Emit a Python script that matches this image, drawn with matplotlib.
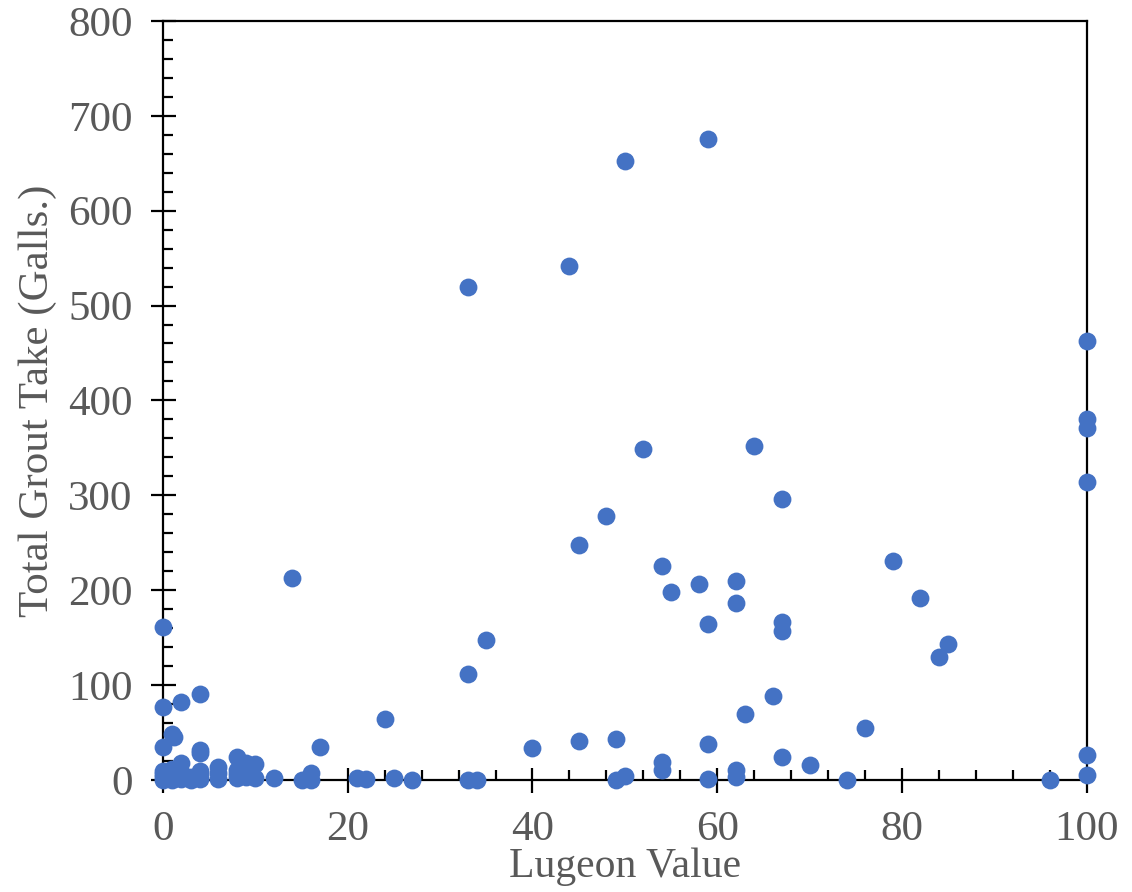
import matplotlib
matplotlib.use("Agg")
import matplotlib.pyplot as plt
from matplotlib.ticker import MultipleLocator

# Lugeon value vs total grout take
lugeon = [
    59, 50, 44, 33, 100, 100, 100, 100, 52, 64, 67, 48, 45, 14, 54, 58, 55, 62, 62, 59,
    79, 82, 85, 84, 67, 67, 0, 35, 33, 66, 63, 76, 24, 17, 40, 45, 49, 59, 54, 54,
    67, 70, 100, 100, 96, 74, 62, 62, 59, 50, 49, 33, 34, 25, 27, 21, 22, 12, 15, 16, 16,
    0, 0, 0, 0, 0, 0,
    1, 1, 1, 1, 1.2, 1,
    2, 2, 2, 2, 2,
    3, 3,
    4, 4, 4, 4, 4, 4,
    6, 6, 6,
    8, 8, 8, 8,
    9, 9, 9,
    10, 10,
]
grout_take = [
    675, 652, 542, 520, 463, 380, 371, 314, 349, 352, 296, 278, 248, 213, 225, 207, 198, 210, 187, 164,
    231, 192, 143, 130, 167, 157, 161, 147, 112, 88, 70, 55, 64, 35, 34, 41, 43, 38, 19, 11,
    24, 16, 26, 5, 0, 0, 10, 3, 1, 4, 0, 0, 0, 2, 0, 2, 1, 2, 0, 0, 7,
    0, 3, 6, 9, 35, 77,
    0, 3, 7, 12, 45, 48,
    1, 4, 8, 18, 82,
    0, 3,
    1, 5, 9, 28, 32, 91,
    1, 7, 14,
    2, 6, 11, 24,
    3, 10, 18,
    2, 17,
]

x_ticks = [0, 20, 40, 60, 80, 100]
y_ticks = [0, 100, 200, 300, 400, 500, 600, 700, 800]

plt.rcParams["font.family"] = ["Liberation Serif", "DejaVu Serif"]
grey = "#595959"

fig = plt.figure(figsize=(11.32, 8.92), dpi=100)
ax = fig.add_axes([0.144, 0.1256, 0.816, 0.851])

ax.scatter(lugeon, grout_take, s=165, color="#4472C4", linewidths=0, zorder=3, clip_on=False)

ax.set_xlim(0, 100)
ax.set_ylim(0, 800)
ax.set_xticks(x_ticks)
ax.set_yticks(y_ticks)
ax.xaxis.set_minor_locator(MultipleLocator(4))
ax.yaxis.set_minor_locator(MultipleLocator(20))

for s in ax.spines.values():
    s.set_linewidth(1.6)
    s.set_color("black")

ax.tick_params(which="major", direction="inout", length=18, width=1.6, color="black",
               labelsize=31, labelcolor=grey, pad=13)
ax.tick_params(which="minor", direction="in", length=7, width=1.6, color="black")
ax.tick_params(axis="x", which="both", top=False)
ax.tick_params(axis="y", which="both", right=False)

ax.set_xlabel("Lugeon Value", fontsize=30, color=grey, labelpad=-1)
ax.set_ylabel("Total Grout Take (Galls.)", fontsize=31, color=grey, labelpad=8)

fig.savefig("out.png", dpi=100)
